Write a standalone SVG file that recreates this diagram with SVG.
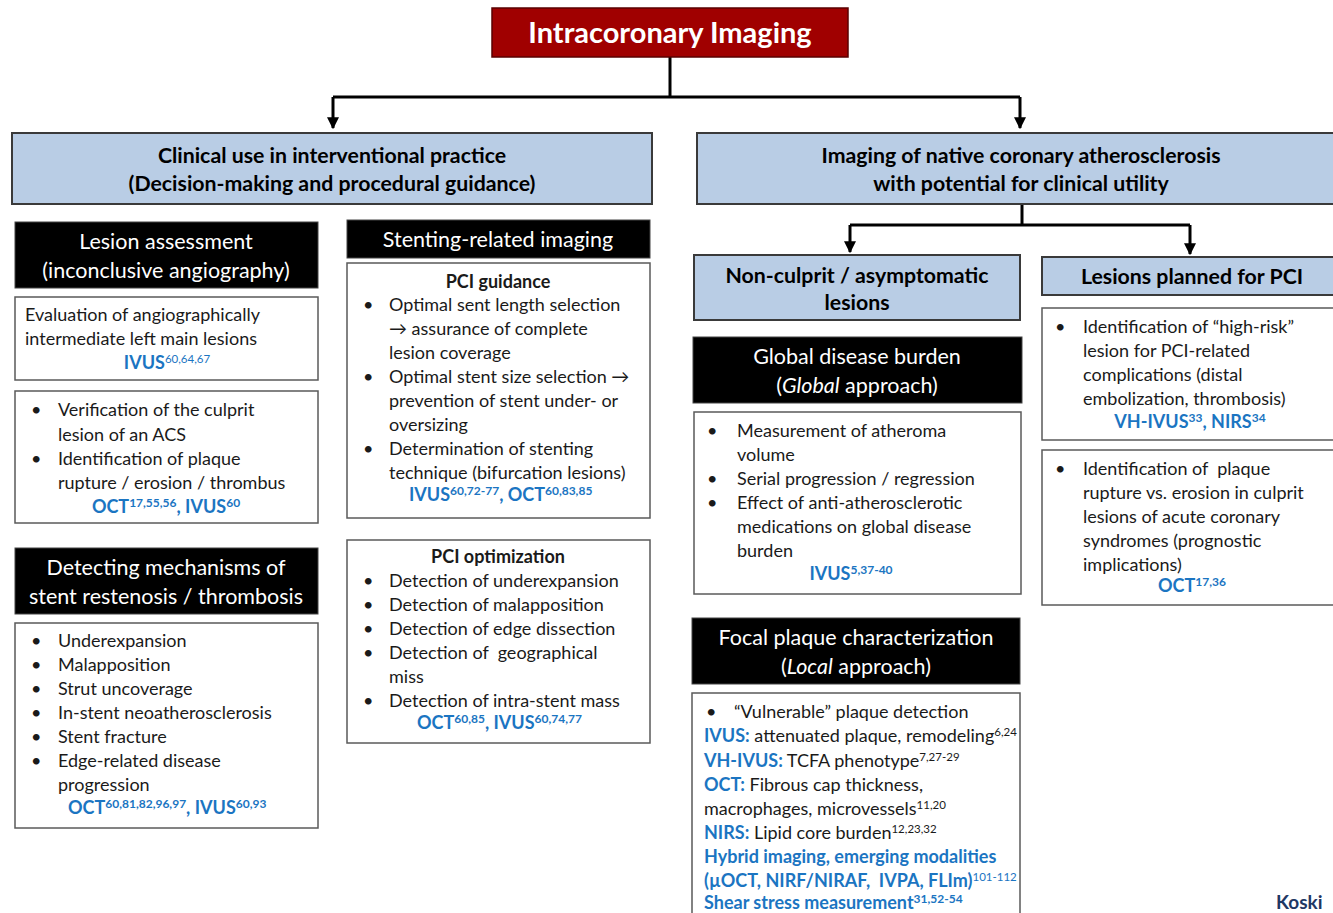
<svg xmlns="http://www.w3.org/2000/svg" width="1333" height="913" viewBox="0 0 1333 913">
<defs>
<marker id="arr" viewBox="0 0 10 10" refX="9" refY="5" markerWidth="4" markerHeight="4" orient="auto" markerUnits="strokeWidth"><path d="M0,0 L10,5 L0,10 z" fill="#000"/></marker>
</defs>
<style>
text{font-family:Lato,"Liberation Sans",sans-serif;}
.title{fill:#a00000;stroke:#5a0000;stroke-width:1.5}
.tt{fill:#fff;font-weight:bold;font-size:29px}
.blue{fill:#b9cde5;stroke:#3a3a3a;stroke-width:2}
.bt{fill:#000;font-weight:bold;font-size:21.3px}
.blk{fill:#000;stroke:#444;stroke-width:1}
.wt{fill:#fff;font-size:21.5px}
.wbox{fill:#fff;stroke:#5a5a5a;stroke-width:1.5}
.t{fill:#1a1a1a;font-size:18px}
.bl{fill:#1b75c2;font-weight:bold}
.sup{font-size:11.5px;font-weight:normal}
.supb{font-size:12px}
.c{stroke:#000;stroke-width:3;fill:none}
</style>
<rect width="1333" height="913" fill="#fff"/>

<g id="connectors">
<path class="c" d="M670,57 V97"/>
<path class="c" d="M333,97 H1020"/>
<path class="c" d="M333,97 V128" marker-end="url(#arr)"/>
<path class="c" d="M1020,97 V128" marker-end="url(#arr)"/>
<path class="c" d="M1022,204 V225"/>
<path class="c" d="M850,225 H1190"/>
<path class="c" d="M850,225 V252" marker-end="url(#arr)"/>
<path class="c" d="M1190,225 V254" marker-end="url(#arr)"/>
</g>

<g id="title">
<rect class="title" x="492" y="8" width="356" height="49"/>
<text class="tt" x="670" y="43" text-anchor="middle">Intracoronary Imaging</text>
</g>

<g id="clinical-use">
<rect class="blue" x="12" y="133" width="640" height="71"/>
<text class="bt" x="332" y="163" text-anchor="middle">Clinical use in interventional practice</text>
<text class="bt" x="332" y="191" text-anchor="middle">(Decision-making and procedural guidance)</text>
</g>

<g id="native-imaging">
<rect class="blue" x="697" y="133" width="645" height="71"/>
<text class="bt" x="1021" y="163" text-anchor="middle">Imaging of native coronary atherosclerosis</text>
<text class="bt" x="1021" y="191" text-anchor="middle">with potential for clinical utility</text>
</g>

<g id="non-culprit">
<rect class="blue" x="694" y="255" width="326" height="65"/>
<text class="bt" x="857" y="283" text-anchor="middle">Non-culprit / asymptomatic</text>
<text class="bt" x="857" y="310" text-anchor="middle">lesions</text>
</g>

<g id="lesions-planned">
<rect class="blue" x="1042" y="257" width="300" height="38"/>
<text class="bt" x="1192" y="284" text-anchor="middle">Lesions planned for PCI</text>
</g>

<g id="lesion-assessment">
<rect class="blk" x="15" y="222" width="303" height="66"/>
<text class="wt" x="166" y="249" text-anchor="middle">Lesion assessment</text>
<text class="wt" x="166" y="278" text-anchor="middle">(inconclusive angiography)</text>
</g>

<g id="left-main">
<rect class="wbox" x="15" y="297" width="303" height="83"/>
<text class="t" x="25" y="321">Evaluation of angiographically</text>
<text class="t" x="25" y="345">intermediate left main lesions</text>
<text class="t bl" x="167" y="369" text-anchor="middle">IVUS<tspan class="sup" dy="-6">60,64,67</tspan></text>
</g>

<g id="culprit">
<rect class="wbox" x="15" y="391" width="303" height="132"/>
<text class="t" x="31" y="416">•</text>
<text class="t" x="58" y="416">Verification of the culprit</text>
<text class="t" x="58" y="441">lesion of an ACS</text>
<text class="t" x="31" y="465">•</text>
<text class="t" x="58" y="465">Identification of plaque</text>
<text class="t" x="58" y="489">rupture / erosion / thrombus</text>
<text class="t bl" x="166" y="513" text-anchor="middle">OCT<tspan class="supb" dy="-6">17,55,56</tspan><tspan dy="6">, IVUS</tspan><tspan class="supb" dy="-6">60</tspan></text>
</g>

<g id="detecting">
<rect class="blk" x="15" y="548" width="303" height="66"/>
<text class="wt" x="166" y="575" text-anchor="middle">Detecting mechanisms of</text>
<text class="wt" x="166" y="604" text-anchor="middle">stent restenosis / thrombosis</text>
</g>

<g id="restenosis-list">
<rect class="wbox" x="15" y="623" width="303" height="205"/>
<text class="t" x="31" y="647">•</text><text class="t" x="58" y="647">Underexpansion</text>
<text class="t" x="31" y="671">•</text><text class="t" x="58" y="671">Malapposition</text>
<text class="t" x="31" y="695">•</text><text class="t" x="58" y="695">Strut uncoverage</text>
<text class="t" x="31" y="719">•</text><text class="t" x="58" y="719">In-stent neoatherosclerosis</text>
<text class="t" x="31" y="743">•</text><text class="t" x="58" y="743">Stent fracture</text>
<text class="t" x="31" y="767">•</text><text class="t" x="58" y="767">Edge-related disease</text>
<text class="t" x="58" y="791">progression</text>
<text class="t bl" x="68" y="814">OCT<tspan class="supb" dy="-6">60,81,82,96,97</tspan><tspan dy="6">, IVUS</tspan><tspan class="supb" dy="-6">60,93</tspan></text>
</g>

<g id="stenting">
<rect class="blk" x="347" y="220" width="303" height="38"/>
<text class="wt" x="498" y="247" text-anchor="middle">Stenting-related imaging</text>
</g>

<g id="pci-guidance">
<rect class="wbox" x="347" y="263" width="303" height="255"/>
<text class="t" x="498" y="288" text-anchor="middle" font-weight="bold">PCI guidance</text>
<text class="t" x="363" y="311">•</text><text class="t" x="389" y="311">Optimal sent length selection</text>
<text class="t" x="389" y="335">→ assurance of complete</text>
<text class="t" x="389" y="359">lesion coverage</text>
<text class="t" x="363" y="383">•</text><text class="t" x="389" y="383">Optimal stent size selection →</text>
<text class="t" x="389" y="407">prevention of stent under- or</text>
<text class="t" x="389" y="431">oversizing</text>
<text class="t" x="363" y="455">•</text><text class="t" x="389" y="455">Determination of stenting</text>
<text class="t" x="389" y="479">technique (bifurcation lesions)</text>
<text class="t bl" x="409" y="501">IVUS<tspan class="supb" dy="-6">60,72-77</tspan><tspan dy="6">, OCT</tspan><tspan class="supb" dy="-6">60,83,85</tspan></text>
</g>

<g id="pci-optimization">
<rect class="wbox" x="347" y="540" width="303" height="203"/>
<text class="t" x="498" y="563" text-anchor="middle" font-weight="bold">PCI optimization</text>
<text class="t" x="363" y="587">•</text><text class="t" x="389" y="587">Detection of underexpansion</text>
<text class="t" x="363" y="611">•</text><text class="t" x="389" y="611">Detection of malapposition</text>
<text class="t" x="363" y="635">•</text><text class="t" x="389" y="635">Detection of edge dissection</text>
<text class="t" x="363" y="659">•</text><text class="t" x="389" y="659" xml:space="preserve">Detection of  geographical</text>
<text class="t" x="389" y="683">miss</text>
<text class="t" x="363" y="707">•</text><text class="t" x="389" y="707">Detection of intra-stent mass</text>
<text class="t bl" x="417" y="729">OCT<tspan class="supb" dy="-6">60,85</tspan><tspan dy="6">, IVUS</tspan><tspan class="supb" dy="-6">60,74,77</tspan></text>
</g>

<g id="global-burden">
<rect class="blk" x="693" y="337" width="329" height="66"/>
<text class="wt" x="857" y="364" text-anchor="middle">Global disease burden</text>
<text class="wt" x="857" y="393" text-anchor="middle">(<tspan font-style="italic">Global</tspan> approach)</text>
</g>

<g id="global-list">
<rect class="wbox" x="694" y="412" width="327" height="182"/>
<text class="t" x="707" y="437">•</text><text class="t" x="737" y="437">Measurement of atheroma</text>
<text class="t" x="737" y="461">volume</text>
<text class="t" x="707" y="485">•</text><text class="t" x="737" y="485">Serial progression / regression</text>
<text class="t" x="707" y="509">•</text><text class="t" x="737" y="509">Effect of anti-atherosclerotic</text>
<text class="t" x="737" y="533">medications on global disease</text>
<text class="t" x="737" y="557">burden</text>
<text class="t bl" x="851" y="580" text-anchor="middle">IVUS<tspan class="supb" dy="-6">5,37-40</tspan></text>
</g>

<g id="focal">
<rect class="blk" x="692" y="618" width="328" height="66"/>
<text class="wt" x="856" y="645" text-anchor="middle">Focal plaque characterization</text>
<text class="wt" x="856" y="674" text-anchor="middle">(<tspan font-style="italic">Local</tspan> approach)</text>
</g>

<g id="focal-list">
<rect class="wbox" x="692" y="693" width="328" height="230"/>
<text class="t" x="706" y="718">•</text><text class="t" x="734" y="718">“Vulnerable” plaque detection</text>
<text class="t" x="704" y="742"><tspan class="bl">IVUS:</tspan> attenuated plaque, remodeling<tspan class="sup" dy="-6">6,24</tspan></text>
<text class="t" x="704" y="767"><tspan class="bl">VH-IVUS:</tspan> TCFA phenotype<tspan class="sup" dy="-6">7,27-29</tspan></text>
<text class="t" x="704" y="791"><tspan class="bl">OCT:</tspan> Fibrous cap thickness,</text>
<text class="t" x="704" y="815">macrophages, microvessels<tspan class="sup" dy="-6">11,20</tspan></text>
<text class="t" x="704" y="839"><tspan class="bl">NIRS:</tspan> Lipid core burden<tspan class="sup" dy="-6">12,23,32</tspan></text>
<text class="t bl" x="704" y="863">Hybrid imaging, emerging modalities</text>
<text class="t bl" x="704" y="887" xml:space="preserve">(µOCT, NIRF/NIRAF,  IVPA, FLIm)<tspan class="sup" dy="-6" font-weight="bold">101-112</tspan></text>
<text class="t bl" x="704" y="909">Shear stress measurement<tspan class="supb" dy="-6">31,52-54</tspan></text>
</g>

<g id="high-risk">
<rect class="wbox" x="1042" y="308" width="300" height="132"/>
<text class="t" x="1055" y="333">•</text><text class="t" x="1083" y="333">Identification of “high-risk”</text>
<text class="t" x="1083" y="357">lesion for PCI-related</text>
<text class="t" x="1083" y="381">complications (distal</text>
<text class="t" x="1083" y="405">embolization, thrombosis)</text>
<text class="t bl" x="1190" y="428" text-anchor="middle">VH-IVUS<tspan class="supb" dy="-6">33</tspan><tspan dy="6">, NIRS</tspan><tspan class="supb" dy="-6">34</tspan></text>
</g>

<g id="rupture-erosion">
<rect class="wbox" x="1042" y="450" width="300" height="155"/>
<text class="t" x="1055" y="475">•</text><text class="t" x="1083" y="475" xml:space="preserve">Identification of  plaque</text>
<text class="t" x="1083" y="499">rupture vs. erosion in culprit</text>
<text class="t" x="1083" y="523">lesions of acute coronary</text>
<text class="t" x="1083" y="547">syndromes (prognostic</text>
<text class="t" x="1083" y="571">implications)</text>
<text class="t bl" x="1192" y="592" text-anchor="middle">OCT<tspan class="supb" dy="-6">17,36</tspan></text>
</g>

<text x="1276" y="909" font-size="19" font-weight="bold" fill="#1f3864">Koski</text>
</svg>
